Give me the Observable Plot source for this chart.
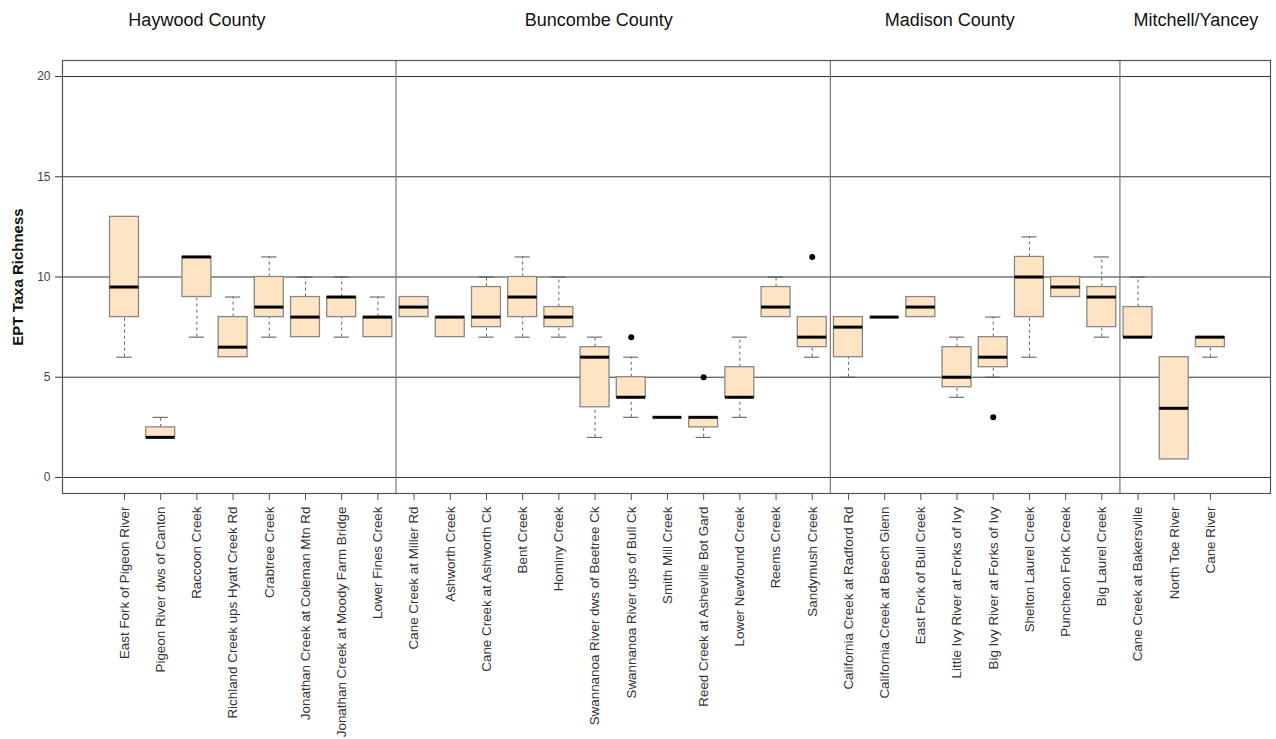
<!DOCTYPE html>
<html>
<head>
<meta charset="utf-8">
<script src="https://cdn.jsdelivr.net/npm/d3@7"></script>
<script src="https://cdn.jsdelivr.net/npm/@observablehq/plot@0.6"></script>
<style>
  html, body { margin: 0; padding: 0; background: #fff; }
  #chart svg { display: block; }
</style>
</head>
<body>
<div id="chart"></div>
<script>
// ---- Data ----
const sites = [
  "East Fork of Pigeon River", "Pigeon River dws of Canton", "Raccoon Creek",
  "Richland Creek ups Hyatt Creek Rd", "Crabtree Creek", "Jonathan Creek at Coleman Mtn Rd",
  "Jonathan Creek at Moody Farm Bridge", "Lower Fines Creek",
  "Cane Creek at Miller Rd", "Ashworth Creek", "Cane Creek at Ashworth Ck", "Bent Creek",
  "Hominy Creek", "Swannanoa River dws of Beetree Ck", "Swannanoa River ups of Bull Ck",
  "Smith Mill Creek", "Reed Creek at Asheville Bot Gard", "Lower Newfound Creek",
  "Reems Creek", "Sandymush Creek",
  "California Creek at Radford Rd", "California Creek at Beech Glenn", "East Fork of Bull Creek",
  "Little Ivy River at Forks of Ivy", "Big Ivy River at Forks of Ivy", "Shelton Laurel Creek",
  "Puncheon Fork Creek", "Big Laurel Creek",
  "Cane Creek at Bakersville", "North Toe River", "Cane River"
];
const counties = ["Haywood County", "Buncombe County", "Madison County", "Mitchell/Yancey"];
const countySizes = [8, 12, 8, 3];

const q1     = [8, 2, 9, 6, 8, 7, 8, 7,   8, 7, 7.5, 8, 7.5, 3.5, 4, 3, 2.5, 4, 8, 6.5,   6, 8, 8, 4.5, 5.5, 8, 9, 7.5,   7, 0.9, 6.5];
const median = [9.5, 2, 11, 6.5, 8.5, 8, 9, 8,   8.5, 8, 8, 9, 8, 6, 4, 3, 3, 4, 8.5, 7,   7.5, 8, 8.5, 5, 6, 10, 9.5, 9,   7, 3.45, 7];
const q3     = [13, 2.5, 11, 8, 10, 9, 9, 8,   9, 8, 9.5, 10, 8.5, 6.5, 5, 3, 3, 5.5, 9.5, 8,   8, 8, 9, 6.5, 7, 11, 10, 9.5,   8.5, 6, 7];
const lower  = [6, 2, 7, 6, 7, 7, 7, 7,   8, 7, 7, 7, 7, 2, 3, 3, 2, 3, 8, 6,   5, 8, 8, 4, 5, 6, 9, 7,   7, 0.9, 6];
const upper  = [13, 3, 11, 9, 11, 10, 10, 9,   9, 8, 10, 11, 10, 7, 6, 3, 3, 7, 10, 8,   8, 8, 9, 7, 8, 12, 10, 11,   10, 6, 7];

const outlierSite  = ["Swannanoa River ups of Bull Ck", "Reed Creek at Asheville Bot Gard", "Sandymush Creek", "Big Ivy River at Forks of Ivy"];
const outlierValue = [7, 5, 11, 3];

const yTicks = [0, 5, 10, 15, 20];

// ---- Build tables ----
const boxes = sites.map((s, i) => ({
  site: s, idx: i + 1, q1: q1[i], median: median[i], q3: q3[i], lower: lower[i], upper: upper[i]
}));
const outliers = outlierSite.map((s, i) => ({ idx: sites.indexOf(s) + 1, value: outlierValue[i] }));

// county boundaries (between groups)
let acc = 0;
const separators = [];
countySizes.forEach((n, k) => { acc += n; if (k < countySizes.length - 1) separators.push(acc + 0.5); });

// county title positions (layout, as placed in the reference)
const titleAnchors = [3.0, 14.1, 23.8, 30.6];
const titles = counties.map((c, k) => ({ name: c, x: titleAnchors[k] }));

const hw = 0.4;   // half box width (in slot units)
const cw = 0.21;  // half cap width

const chart = Plot.plot({
  width: 1276,
  height: 739,
  marginLeft: 62,
  marginRight: 6,
  marginTop: 60,
  marginBottom: 246,
  style: { fontFamily: "Liberation Sans, Arial, sans-serif", background: "#fff" },
  x: { type: "linear", domain: [-0.713, 32.66], axis: null },
  y: { domain: [-0.8, 20.8], axis: null },
  marks: [
    // grid lines
    Plot.ruleY(yTicks, { stroke: "#333", strokeWidth: 1 }),
    // county separators
    Plot.ruleX(separators, { stroke: "#777", strokeWidth: 1.2 }),
    // whiskers (dashed)
    Plot.ruleX(boxes.filter(d => d.upper > d.q3), { x: "idx", y1: "q3", y2: "upper", stroke: "#666", strokeDasharray: "3,3" }),
    Plot.ruleX(boxes.filter(d => d.lower < d.q1), { x: "idx", y1: "lower", y2: "q1", stroke: "#666", strokeDasharray: "3,3" }),
    // caps
    Plot.ruleY(boxes.filter(d => d.upper > d.q3), { y: "upper", x1: d => d.idx - cw, x2: d => d.idx + cw, stroke: "#555" }),
    Plot.ruleY(boxes.filter(d => d.lower < d.q1), { y: "lower", x1: d => d.idx - cw, x2: d => d.idx + cw, stroke: "#555" }),
    // boxes
    Plot.rect(boxes.filter(d => d.q3 > d.q1), {
      x1: d => d.idx - hw, x2: d => d.idx + hw, y1: "q1", y2: "q3",
      fill: "#FFE4C4", stroke: "#888", strokeWidth: 1.3
    }),
    // medians
    Plot.ruleY(boxes, { y: "median", x1: d => d.idx - hw, x2: d => d.idx + hw, stroke: "#000", strokeWidth: 3 }),
    // outliers
    Plot.dot(outliers, { x: "idx", y: "value", r: 3, fill: "#000", stroke: "none" }),
    // frame
    Plot.frame({ stroke: "#555", strokeWidth: 1.2 }),
    // y axis
    Plot.axisY(yTicks, {
      tickSize: 7, tickPadding: 5, stroke: "#333", fill: "#444", fontSize: 12,
      label: null
    }),
    // x axis
    Plot.axisX(d3.range(1, sites.length + 1), {
      anchor: "bottom", tickSize: 7, tickPadding: 6, tickRotate: -90,
      tickFormat: i => sites[i - 1], fontSize: 13.4, fill: "#333", stroke: "#555", label: null
    }),
    // y axis title
    Plot.text(["EPT Taxa Richness"], {
      frameAnchor: "left", dx: -44, rotate: -90, textAnchor: "middle",
      fontSize: 15, fontWeight: "bold", fill: "#111"
    }),
    // county titles
    Plot.text(titles, {
      x: "x", text: "name", frameAnchor: "top", dy: -40, fontSize: 18, fill: "#111", lineAnchor: "middle"
    })
  ]
});
document.getElementById("chart").appendChild(chart);
</script>
</body>
</html>
